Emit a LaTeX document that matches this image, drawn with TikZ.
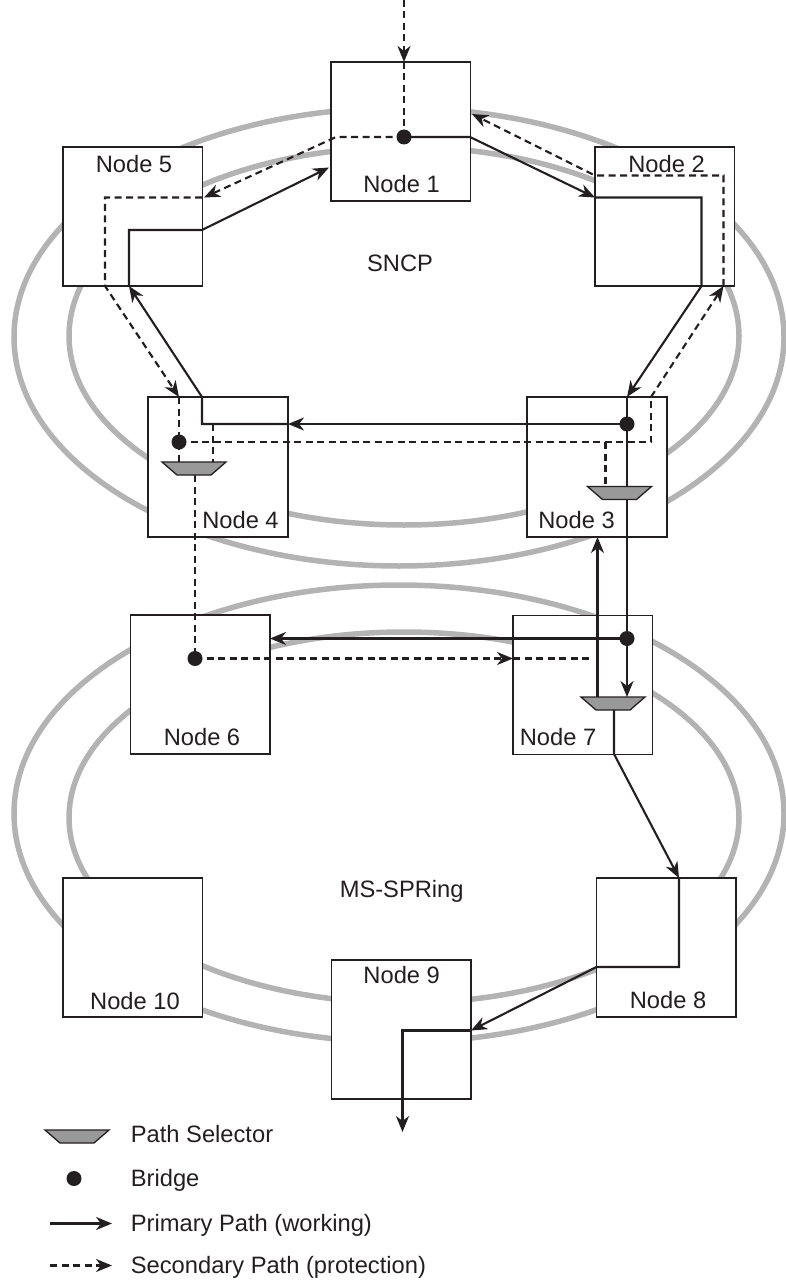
\documentclass[tikz,border=0pt]{standalone}
\usepackage{fontspec}
\setmainfont{Liberation Sans}
\usetikzlibrary{arrows.meta}
\definecolor{ink}{HTML}{231F20}
\definecolor{ringgray}{HTML}{B3B3B3}
\definecolor{selgray}{HTML}{999999}
\begin{document}
\begin{tikzpicture}[x=1pt,y=-1pt,
  ring/.style={draw=ringgray,line width=5.5pt},
  box/.style={draw=ink,fill=white,line width=1.6pt,minimum width=139.5pt,minimum height=139pt,inner sep=0pt,outer sep=0pt,anchor=north west},
  lbl/.style={text=ink,font=\fontsize{23.7}{28}\selectfont,inner sep=0pt,anchor=base},
  lgd/.style={text=ink,font=\fontsize{23.7}{28}\selectfont,inner sep=0pt,anchor=base west},
  prim/.style={draw=ink,line width=2.1pt},
  sec/.style={draw=ink,line width=2.1pt,dash pattern=on 7pt off 4.5pt},
  tip/.style={-{Stealth[length=16pt,width=13pt,inset=5pt]}},
  bridge/.style={circle,fill=ink,inner sep=0pt,minimum size=15pt},
  sel/.pic={\draw[fill=selgray,draw=ink,line width=1.3pt,line join=miter] (-32,0) -- (32,0) -- (17,13) -- (-17,13) -- cycle;}
]
\useasboundingbox (0,0) rectangle (786,1281);
% rings
\draw[ring] (399,337) ellipse [x radius=385, y radius=229];
\draw[ring] (404,336) ellipse [x radius=335, y radius=189];
\draw[ring] (399,813.5) ellipse [x radius=385, y radius=228.5];
\draw[ring] (404,817.5) ellipse [x radius=335, y radius=185.5];
\node[lbl] (sncp) at (400,271) {SNCP};
\node[lbl] (mss) at (401.7,897) {MS-SPRing};
% boxes
\node[box] (n1) at (331,62) {};
\node[box] (n5) at (63,147) {};
\node[box] (n2) at (595,147) {};
\node[box,minimum width=140pt,minimum height=140pt] (n4) at (148,397) {};
\node[box,minimum width=140pt,minimum height=140pt] (n3) at (527,397) {};
\node[box] (n6) at (130.5,615) {};
\node[box] (n7) at (513,615.5) {};
\node[box] (n10) at (63,878) {};
\node[box] (n8) at (596.5,878) {};
\node[box] (n9) at (331.5,960) {};
% points
\coordinate (b1) at (404,137);
\coordinate (b4) at (179,442);
\coordinate (b3) at (627,424);
\coordinate (b6) at (195,658.5);
\coordinate (b7) at (627,638.5);
\coordinate (s4) at (194,462);
\coordinate (s3) at (619.5,486.5);
\coordinate (s7) at (613,697);
\coordinate (src) at (404,0);
\coordinate (n1in) at (404,62);
\coordinate (p1) at (470,137);
\coordinate (p2) at (595,197.5);
\coordinate (p3) at (701.5,197.5);
\coordinate (p4) at (701.5,286);
\coordinate (p5) at (627,397);
\coordinate (p6) at (627,697);
\coordinate (p7) at (288,424);
\coordinate (p8) at (202,424);
\coordinate (p9) at (202,397);
\coordinate (p10) at (129,286);
\coordinate (p11) at (129,230);
\coordinate (p12) at (202,230);
\coordinate (p13) at (329,167.5);
\coordinate (p14) at (270,638.5);
\coordinate (p15) at (597.5,697);
\coordinate (p16) at (597.5,537);
\coordinate (p17) at (614,710);
\coordinate (p18) at (614,754);
\coordinate (p19) at (679,878);
\coordinate (p20) at (679,967);
\coordinate (p21) at (596.5,967);
\coordinate (p22) at (471,1030.5);
\coordinate (p23) at (402.5,1030.5);
\coordinate (sink) at (402.5,1132);
\coordinate (q1) at (336,137);
\coordinate (q2) at (204,197.5);
\coordinate (q3) at (105,197.5);
\coordinate (q4) at (105,286);
\coordinate (q5) at (179,397);
\coordinate (q6) at (179,462);
\coordinate (q7) at (213,424);
\coordinate (q8) at (213,462);
\coordinate (q9) at (651,442);
\coordinate (q10) at (651,397);
\coordinate (q11) at (723.5,286);
\coordinate (q12) at (723.5,175.5);
\coordinate (q13) at (595,175.5);
\coordinate (q14) at (472,114);
\coordinate (q15) at (605.5,442);
\coordinate (q16) at (605.5,487);
\coordinate (q17) at (195,475);
\coordinate (q18) at (513,658.5);
\coordinate (q19) at (593,658.5);
% primary path
\draw[prim,tip] (b1) -- (p1) -- (p2);
\draw[prim,tip] (p2) -- (p3) -- (p4) -- (p5);
\draw[prim,tip] (p5) -- (b3) -- (b7) -- (p6);
\draw[prim,tip] (b3) -- (p7);
\draw[prim,tip] (p7) -- (p8) -- (p9) -- (p10);
\draw[prim,tip] (p10) -- (p11) -- (p12) -- (p13);
\draw[prim,tip] (b7) -- (p14);
\draw[prim,tip] (p15) -- (p16);
\draw[prim,tip] (p17) -- (p18) -- (p19);
\draw[prim,tip] (p19) -- (p20) -- (p21) -- (p22);
\draw[prim,tip] (p22) -- (p23) -- (sink);
% secondary path
\draw[sec,tip] (src) -- (n1in);
\draw[sec] (n1in) -- (b1);
\draw[sec,tip] (b1) -- (q1) -- (q2);
\draw[sec,tip] (p12|-q2) -- (q3) -- (q4) -- (q5);
\draw[sec] (q5) -- (b4) -- (q6);
\draw[sec] (q7) -- (q8);
\draw[sec] (b4) -- (q9) -- (q10);
\draw[sec,tip] (q10) -- (q11);
\draw[sec,tip] (q11) -- (q12) -- (q13) -- (q14);
\draw[sec] (q15) -- (q16);
\draw[sec] (q17) -- (b6);
\draw[sec,tip] (b6) -- (q18);
\draw[sec] (q18) -- (q19);
% selectors and bridges
\pic at (s4) {sel};
\pic at (s3) {sel};
\pic at (s7) {sel};
\node[bridge] at (b1) {};
\node[bridge] at (b4) {};
\node[bridge] at (b3) {};
\node[bridge] at (b6) {};
\node[bridge] at (b7) {};
% labels
\node[lbl] at (401.5,193) {Node 1};
\node[lbl] at (134,173) {Node 5};
\node[lbl] at (666.5,173) {Node 2};
\node[lbl] at (240.5,528) {Node 4};
\node[lbl] at (576.5,528) {Node 3};
\node[lbl] at (202,745.5) {Node 6};
\node[lbl] at (558,745.5) {Node 7};
\node[lbl] at (401.7,983) {Node 9};
\node[lbl] at (135,1009) {Node 10};
\node[lbl] at (668,1008.5) {Node 8};
% legend
\coordinate (ls) at (77,1130);
\pic at (ls) {sel};
\node[bridge] (lb) at (74,1178.5) {};
\coordinate (la1) at (50,1223.5);
\coordinate (la2) at (112,1223.5);
\coordinate (ld1) at (50,1265.5);
\coordinate (ld2) at (112,1265.5);
\draw[prim,tip] (la1) -- (la2);
\draw[sec,tip] (ld1) -- (ld2);
\node[lgd] at (130.7,1142.5) {Path Selector};
\node[lgd] at (130.7,1186.5) {Bridge};
\node[lgd] at (130.7,1231.5) {Primary Path (working)};
\node[lgd] at (130.7,1273.5) {Secondary Path (protection)};
\end{tikzpicture}
\end{document}
